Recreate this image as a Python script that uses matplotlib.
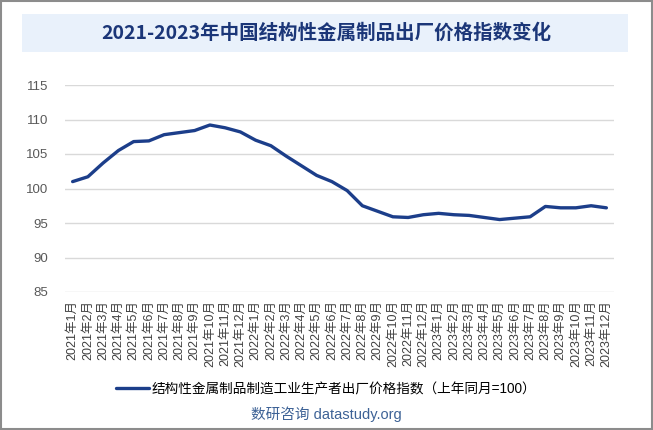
import matplotlib.pyplot as plt
from matplotlib.patches import Rectangle

plt.rcParams['font.family'] = ['Liberation Sans', 'Noto Sans CJK SC', 'DejaVu Sans']

months = [f'{y}年{m}月' for y in (2021, 2022, 2023) for m in range(1, 13)]
index_values = [101.0, 101.7, 103.7, 105.5, 106.8, 106.9, 107.8, 108.1, 108.4, 109.2, 108.8, 108.2,
                107.0, 106.2, 104.7, 103.3, 101.9, 101.0, 99.7, 97.5, 96.7, 95.9, 95.8, 96.2,
                96.4, 96.2, 96.1, 95.8, 95.5, 95.7, 95.9, 97.4, 97.2, 97.2, 97.5, 97.2]
y_ticks = [85, 90, 95, 100, 105, 110, 115]

title = '2021-2023年中国结构性金属制品出厂价格指数变化'
series_name = '结构性金属制品制造工业生产者出厂价格指数（上年同月=100）'
source = '数研咨询 datastudy.org'

fig = plt.figure(figsize=(6.53, 4.3), dpi=100)
fig.patches.append(Rectangle((0.002, 0.002), 0.996, 0.996, transform=fig.transFigure,
                             fill=False, edgecolor='#8c8c8c', linewidth=1.5))
fig.patches.append(Rectangle((22 / 653, 1 - 52 / 430), 606 / 653, 38 / 430, transform=fig.transFigure,
                             facecolor='#e9f1fb', edgecolor='none'))
fig.text(0.5, 1 - 33 / 430, title, ha='center', va='center', fontsize=14,
         fontweight='bold', color='#1b3678', family=['Noto Sans CJK SC'])

ax = fig.add_axes([65 / 653, 1 - 292 / 430, 549 / 653, 207 / 430])
x = range(len(months))
ax.plot(x, index_values, color='#1c3e8a', linewidth=2.4, label=series_name, solid_capstyle='round')
ax.set_xlim(-0.5, len(months) - 0.5)
ax.set_ylim(85, 115)
ax.set_yticks(y_ticks)
ax.set_xticks(list(x))
ax.set_xticklabels(months, rotation=90, fontsize=9, color='#404040')
ax.tick_params(axis='y', labelsize=9.5, labelcolor='#595959', length=0, pad=12)
ax.tick_params(axis='x', length=0, pad=6)
ax.grid(axis='y', color='#d9d9d9', linewidth=1)
ax.set_axisbelow(True)
for s in ax.spines.values():
    s.set_visible(False)

fig.legend(loc='center', bbox_to_anchor=(0.5, 1 - 389 / 430), frameon=False, fontsize=9.8,
           handlelength=2.4, handletextpad=0.2)
fig.text(0.5, 1 - 414 / 430, source, ha='center', va='center', fontsize=10.5, color='#3d6296')

fig.savefig('out.png', dpi=100)
